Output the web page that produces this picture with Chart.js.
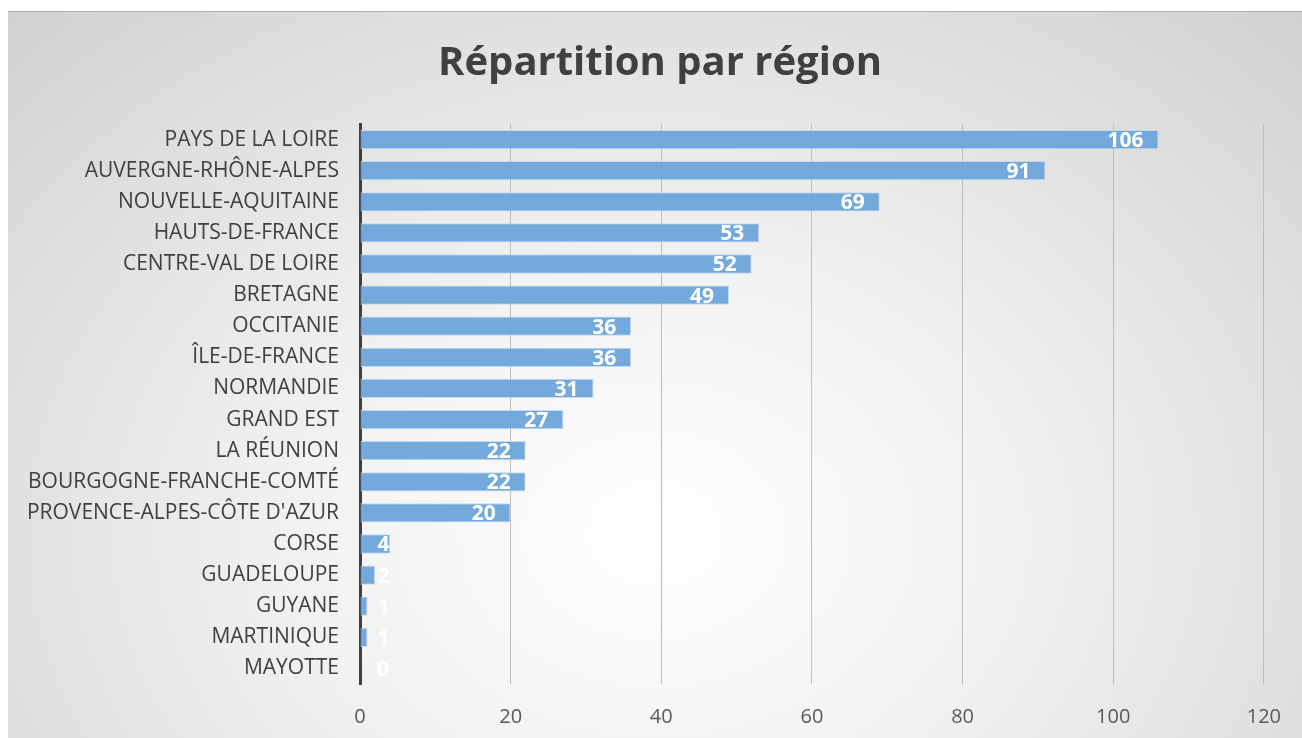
<!DOCTYPE html>
<html lang="fr">
<head>
<meta charset="UTF-8" />
<title>Répartition par région</title>
<script src="https://cdn.jsdelivr.net/npm/chart.js"></script>
<style>
    html, body { margin: 0; padding: 0; background: #fff; }
    .cadre {
        position: absolute; left: 8px; top: 11px; width: 1294px; height: 727px;
        border-top: 1px solid #b5b5b5;
        box-sizing: border-box;
        background: radial-gradient(ellipse 90% 125% at 50% 72%, #ffffff 0%, #f2f2f2 30%, #c4c4c4 100%);
    }
</style>
</head>
<body>
<div class="cadre">
    <canvas id="grafico" width="1294" height="726"></canvas>
</div>

<script>
    const regions = ['PAYS DE LA LOIRE', 'AUVERGNE-RHÔNE-ALPES', 'NOUVELLE-AQUITAINE', 'HAUTS-DE-FRANCE',
        'CENTRE-VAL DE LOIRE', 'BRETAGNE', 'OCCITANIE', 'ÎLE-DE-FRANCE', 'NORMANDIE', 'GRAND EST',
        'LA RÉUNION', 'BOURGOGNE-FRANCHE-COMTÉ', "PROVENCE-ALPES-CÔTE D'AZUR", 'CORSE', 'GUADELOUPE',
        'GUYANE', 'MARTINIQUE', 'MAYOTTE'];
    const valeurs = [106, 91, 69, 53, 52, 49, 36, 36, 31, 27, 22, 22, 20, 4, 2, 1, 1, 0];
    const ticksX = [0, 20, 40, 60, 80, 100, 120];
    const titre = 'Répartition par région';

    const police = "'Open Sans', 'DejaVu Sans', sans-serif";

    // titre dessiné à la main pour le centrer comme dans Excel
    const titrePerso = {
        id: 'titrePerso',
        afterDraw(chart) {
            const c = chart.ctx;
            c.save();
            c.font = 'bold 40px ' + police;
            c.fillStyle = '#404040';
            c.textAlign = 'center';
            c.textBaseline = 'middle';
            c.fillText(titre, 652, 52);
            c.restore();
        }
    };

    // étiquettes blanches au bout des barres
    const etiquettes = {
        id: 'etiquettes',
        afterDatasetsDraw(chart) {
            const c = chart.ctx;
            const meta = chart.getDatasetMeta(0);
            c.save();
            c.font = 'bold 21px ' + police;
            c.fillStyle = '#ffffff';
            c.textAlign = 'right';
            c.textBaseline = 'middle';
            meta.data.forEach((bar, i) => {
                const txt = String(valeurs[i]);
                const w = c.measureText(txt).width;
                const x = Math.max(bar.x - 15, bar.base + 17 + w);
                c.fillText(txt, x, bar.y + 1.5);
            });
            c.restore();
        }
    };

    const ctx = document.getElementById('grafico').getContext('2d');
    new Chart(ctx, {
        type: 'bar',
        data: {
            labels: regions,
            datasets: [{
                data: valeurs,
                backgroundColor: 'rgba(108, 164, 217, 0.95)',
                borderColor: 'rgba(190, 215, 240, 0.9)',
                borderWidth: 1,
                categoryPercentage: 1,
                barPercentage: 0.62
            }]
        },
        options: {
            indexAxis: 'y',
            responsive: false,
            animation: false,
            layout: { padding: { left: 0, right: 38, top: 112, bottom: 0 } },
            scales: {
                x: {
                    min: 0, max: 120,
                    afterBuildTicks: (s) => { s.ticks = ticksX.map(v => ({ value: v })); },
                    afterFit: (s) => { s.height = 54; },
                    border: { display: false },
                    grid: { color: '#bdbdbd', lineWidth: 1, drawTicks: false },
                    ticks: { color: '#595959', padding: 21, font: { family: police, size: 20 } }
                },
                y: {
                    afterFit: (s) => { s.width = 352; },
                    border: { color: '#404040', width: 3 },
                    grid: { display: false },
                    ticks: { color: '#404040', padding: 13, font: { family: police, size: 21 } }
                }
            },
            plugins: {
                legend: { display: false },
                tooltip: { enabled: false },
                title: { display: false }
            }
        },
        plugins: [etiquettes, titrePerso]
    });
</script>
</body>
</html>
